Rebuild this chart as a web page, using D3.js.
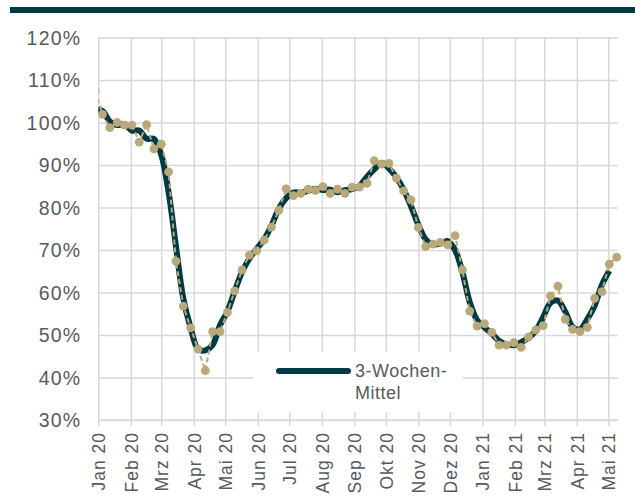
<!DOCTYPE html>
<html><head><meta charset="utf-8">
<script src="https://cdn.jsdelivr.net/npm/d3@7"></script>
<style>
body{margin:0;background:#fff}
svg{display:block;font-family:"Liberation Sans",Arial,sans-serif}
</style>
</head><body>
<svg id="c" width="635" height="497"></svg>
<script>
// weekly observation dates (week ending)
const weekDates = ["2019-12-29","2020-01-05","2020-01-12","2020-01-19","2020-01-26","2020-02-02","2020-02-09","2020-02-16","2020-02-23","2020-03-01","2020-03-08","2020-03-15","2020-03-22","2020-03-29","2020-04-05","2020-04-12","2020-04-19","2020-04-26","2020-05-03","2020-05-10","2020-05-17","2020-05-24","2020-05-31","2020-06-07","2020-06-14","2020-06-21","2020-06-28","2020-07-05","2020-07-12","2020-07-19","2020-07-26","2020-08-02","2020-08-09","2020-08-16","2020-08-23","2020-08-30","2020-09-06","2020-09-13","2020-09-20","2020-09-27","2020-10-04","2020-10-11","2020-10-18","2020-10-25","2020-11-01","2020-11-08","2020-11-15","2020-11-22","2020-11-29","2020-12-06","2020-12-13","2020-12-20","2020-12-27","2021-01-03","2021-01-10","2021-01-17","2021-01-24","2021-01-31","2021-02-07","2021-02-14","2021-02-21","2021-02-28","2021-03-07","2021-03-14","2021-03-21","2021-03-28","2021-04-04","2021-04-11","2021-04-18","2021-04-25","2021-05-02","2021-05-09"];
// weekly index values (%)
const weeklyValues = [107.5,101.9,98.8,100.0,99.4,99.4,95.4,99.5,93.8,94.9,88.4,67.4,56.8,51.7,46.7,41.6,50.8,50.8,55.3,60.4,65.3,68.8,69.8,72.3,75.4,79.3,84.4,82.8,83.3,84.3,84.0,84.9,83.3,84.3,83.3,84.8,84.8,85.7,91.0,90.2,90.4,86.9,83.9,81.8,75.3,70.8,71.4,71.8,71.2,73.4,65.3,55.6,52.1,52.7,50.6,47.6,47.6,48.2,47.1,49.5,51.2,52.2,59.2,61.5,53.7,51.3,50.8,51.8,58.6,60.2,66.7,68.3];
// 3-week mean (%)
const threeWeekMean = [103.0,102.7,100.2,99.4,99.6,98.1,98.1,96.2,96.1,92.4,83.6,70.9,58.6,51.7,46.7,46.4,47.7,52.3,55.5,60.3,64.8,68.0,70.3,72.5,75.7,79.7,82.2,83.5,83.5,83.9,84.4,84.1,84.2,83.6,84.1,84.3,85.1,87.2,89.0,90.5,89.2,87.1,84.2,80.3,76.0,72.5,71.3,71.5,72.1,70.0,64.8,57.7,53.5,51.8,50.3,48.6,47.8,47.6,48.3,49.3,51.0,54.2,57.6,58.1,55.5,51.9,51.3,53.7,56.9,61.8,65.1,null];
// axis ticks
const monthTicks = ["2020-01-01","2020-02-01","2020-03-01","2020-04-01","2020-05-01","2020-06-01","2020-07-01","2020-08-01","2020-09-01","2020-10-01","2020-11-01","2020-12-01","2021-01-01","2021-02-01","2021-03-01","2021-04-01","2021-05-01"];
const monthLabels = ["Jan 20","Feb 20","Mrz 20","Apr 20","Mai 20","Jun 20","Jul 20","Aug 20","Sep 20","Okt 20","Nov 20","Dez 20","Jan 21","Feb 21","Mrz 21","Apr 21","Mai 21"];
const yTicks = [30,40,50,60,70,80,90,100,110,120];
const legendLines = ["3-Wochen-","Mittel"];

(function () {
const DARK = "#003a45", TAN = "#b9a879", GRID = "#d9d9d9", TXT = "#595959";
const FONT = '"Liberation Sans",Arial,sans-serif';
const parse = d3.timeParse("%Y-%m-%d");
const svg = d3.select("#c");

const pL = 98.3, pR = 617.7, pT = 37.5, pB = 420;
const x = d3.scaleTime().domain([parse("2020-01-01"), parse("2021-05-10")]).range([pL, pR]);
const y = d3.scaleLinear().domain([30, 120]).range([pB, pT]);

// top bar
svg.append("rect").attr("x", 10).attr("y", 7).attr("width", 625).attr("height", 6).attr("fill", DARK);

// horizontal grid + y labels
const yAxis = d3.axisLeft(y).tickValues(yTicks).tickFormat(d => d + "%").tickSize(0).tickPadding(0);
const gy = svg.append("g").attr("transform", `translate(${pL},0)`).call(yAxis);
gy.select(".domain").remove();
gy.selectAll(".tick line").attr("x1", 0).attr("x2", pR - pL).attr("stroke", GRID).attr("stroke-width", 1.5);
gy.selectAll(".tick text").attr("x", -17).attr("dy", "0.34em").attr("fill", TXT).attr("font-size", 19.5)
  .attr("letter-spacing", 1.2).attr("font-family", FONT);

// vertical grid + x labels
const tickDates = monthTicks.map(parse);
const xAxis = d3.axisBottom(x).tickValues(tickDates).tickFormat((d, i) => monthLabels[i]).tickSize(0);
const gx = svg.append("g").attr("transform", `translate(0,${pB})`).call(xAxis);
gx.select(".domain").remove();
gx.selectAll(".tick line").attr("y1", 6).attr("y2", pT - pB).attr("stroke", GRID).attr("stroke-width", 1.5);
gx.selectAll(".tick text")
  .attr("transform", "rotate(-90)")
  .attr("text-anchor", "end")
  .attr("x", -12).attr("y", 0).attr("dy", "0.36em")
  .attr("fill", TXT).attr("font-size", 17.5).attr("letter-spacing", 1)
  .attr("font-family", FONT);
svg.append("line").attr("x1", pL).attr("x2", pR).attr("y1", pB).attr("y2", pB).attr("stroke", GRID).attr("stroke-width", 1.5);

// legend box (covers grid)
svg.append("rect").attr("x", 253).attr("y", 352).attr("width", 210).attr("height", 60).attr("fill", "#fff");
svg.append("line").attr("x1", 279).attr("x2", 348).attr("y1", 371).attr("y2", 371)
  .attr("stroke", DARK).attr("stroke-width", 6).attr("stroke-linecap", "round");
svg.append("text").attr("x", 355).attr("y", 377).attr("fill", TXT).attr("font-size", 18).attr("letter-spacing", 0.5)
  .attr("font-family", FONT)
  .selectAll("tspan").data(legendLines).join("tspan")
  .attr("x", 355).attr("dy", (d, i) => i ? 22 : 0).text(d => d);

// clip (left edge only)
svg.append("clipPath").attr("id", "clip").append("rect")
  .attr("x", pL).attr("y", 0).attr("width", 635 - pL).attr("height", pB);
const plot = svg.append("g").attr("clip-path", "url(#clip)");

const pts = weekDates.map((d, i) => ({date: parse(d), v: weeklyValues[i], m: threeWeekMean[i]}));

plot.append("path")
  .datum(pts.filter(p => p.m != null))
  .attr("d", d3.line().x(p => x(p.date)).y(p => y(p.m)).curve(d3.curveCatmullRom.alpha(0.5)))
  .attr("fill", "none").attr("stroke", DARK).attr("stroke-width", 6).attr("stroke-linejoin", "round");

plot.append("path")
  .datum(pts)
  .attr("d", d3.line().x(p => x(p.date)).y(p => y(p.v)))
  .attr("fill", "none").attr("stroke", TAN).attr("stroke-width", 2).attr("stroke-dasharray", "5,3");

plot.selectAll("circle.pt").data(pts).join("circle")
  .attr("class", "pt")
  .attr("cx", p => x(p.date)).attr("cy", p => y(p.v)).attr("r", 4.4)
  .attr("fill", TAN);
})();
</script>
</body></html>
